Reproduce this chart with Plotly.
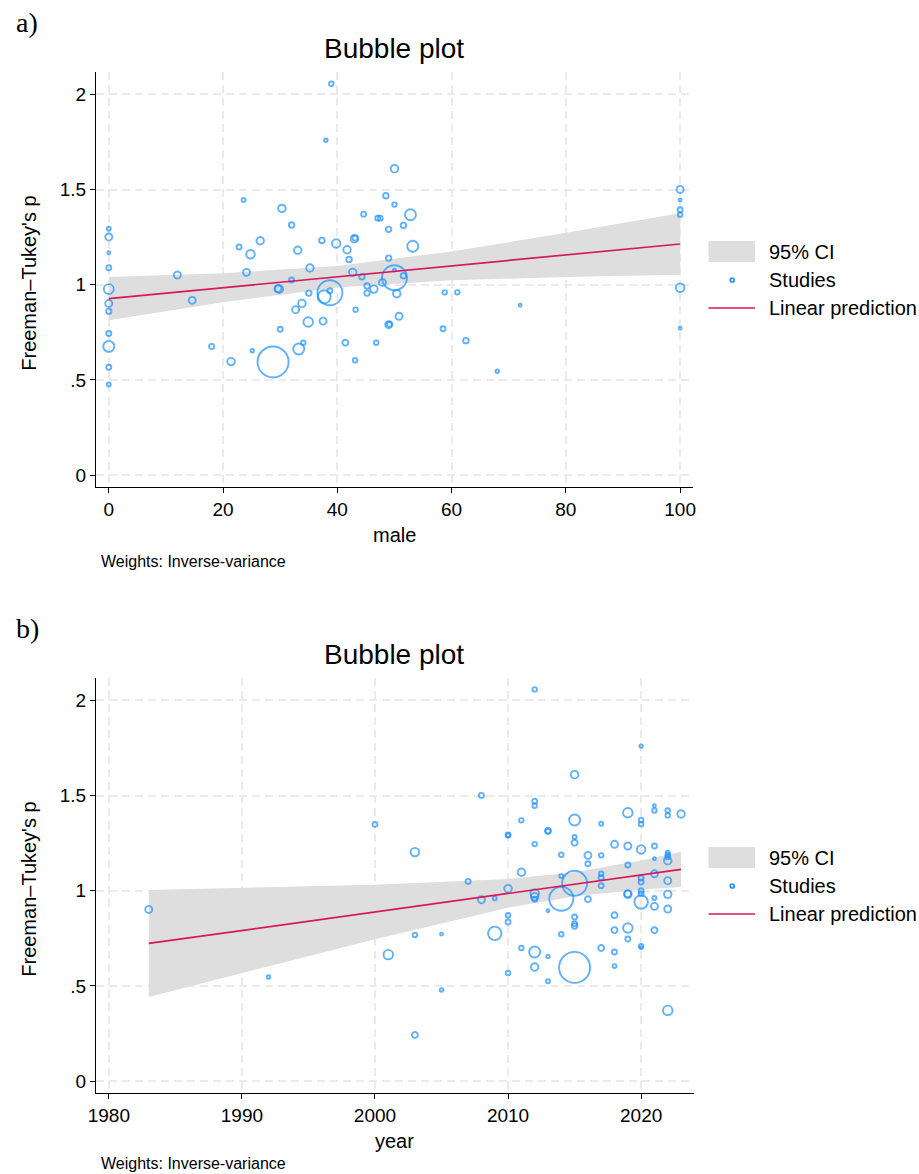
import plotly.graph_objects as go

# ---------------- Panel a: male ----------------
male = [0, 0, 0, 0, 0, 0, 0, 0, 0, 0, 0,
        12, 14.6, 18, 21.4, 25.1, 28.75, 23.6, 30.3, 32, 22.8, 26.5, 24.8, 24.1, 29.8, 29.6,
        32, 30, 32.7, 33.07, 33.25, 33.8,
        38.95, 38, 50, 48.5, 50, 52.8, 44.6, 47.07, 47.5, 48.98, 51.57, 37.3, 39.8, 43, 43.1,
        41.7, 42.06, 53.2, 48.98, 35.2, 42.7, 44.3, 50, 50, 51.57, 45.2, 46.4, 45.2, 47.9, 50.4,
        38.7, 37.7, 38.7, 35, 43.2, 34.9, 37.5, 49, 49.1, 50.8, 34.05, 41.4, 46.8, 43.1,
        58.8, 61, 58.5, 62.5, 68, 72,
        100, 100, 100, 100, 100, 100]
male_ft = [1.294, 1.251, 1.168, 1.089, 0.977, 0.902, 0.860, 0.744, 0.676, 0.566, 0.476,
           1.051, 0.918, 0.676, 0.596, 0.653, 0.594, 1.445, 1.401, 1.314, 1.198, 1.231, 1.160, 1.065, 0.977, 0.980,
           1.025, 0.766, 0.869, 1.181, 0.662, 0.902,
           2.056, 1.759, 1.610, 1.468, 1.421, 1.368, 1.371, 1.350, 1.350, 1.291, 1.312, 1.233, 1.217, 1.242, 1.245,
           1.184, 1.133, 1.202, 1.140, 1.088, 1.065, 1.042, 1.077, 1.037, 1.047, 0.993, 0.977, 0.956, 1.012, 0.953,
           0.958, 0.937, 0.968, 0.956, 0.869, 0.804, 0.809, 0.790, 0.792, 0.834, 0.695, 0.695, 0.695, 0.603,
           0.960, 0.960, 0.769, 0.706, 0.545, 0.892,
           1.501, 1.445, 1.394, 1.368, 0.984, 0.771]
male_size = [4, 7, 3, 5, 10, 7, 5.5, 5, 11, 5, 4,
             7, 7, 5, 7.5, 3.5, 31, 4, 7.5, 5.5, 5, 7.5, 8.5, 7, 8, 7,
             5, 5, 7, 7.5, 11, 7.5,
             4.5, 3.5, 7.5, 5.5, 4.5, 11, 5, 5, 5, 5.5, 5.5, 5.5, 8.5, 7.5, 5,
             7.5, 5.5, 11, 5.5, 7.5, 7.5, 5.5, 3, 25, 5.5, 5.5, 7.5, 5.5, 7, 7.5,
             25, 13, 5, 5.5, 4.5, 9.5, 7, 7, 5, 7, 4.5, 6, 4.5, 4.5,
             4.5, 4.5, 5, 5.5, 3.5, 3,
             7, 3, 5, 4.5, 8.5, 3]

male_grid = [0, 20, 40, 60, 80, 100]
male_pred = [0.927, 0.984, 1.042, 1.099, 1.157, 1.214]
male_lo = [0.813, 0.908, 0.985, 1.023, 1.041, 1.052]
male_hi = [1.041, 1.060, 1.099, 1.175, 1.273, 1.376]

# ---------------- Panel b: year ----------------
year = [1983, 1992, 2000, 2003, 2001, 2003, 2005, 2005, 2003, 2008, 2007, 2008, 2009, 2009,
        2010, 2010, 2010, 2010, 2010, 2010,
        2011, 2011, 2011,
        2012, 2012, 2012, 2012, 2012, 2012, 2012, 2012, 2012,
        2013, 2013, 2013, 2013, 2013,
        2014, 2014, 2014, 2014,
        2015, 2015, 2015, 2015, 2015, 2015, 2015, 2015, 2015,
        2016, 2016, 2016,
        2017, 2017, 2017, 2017, 2017, 2017,
        2018, 2018, 2018, 2018, 2018,
        2019, 2019, 2019, 2019, 2019, 2019, 2019,
        2020, 2020, 2020, 2020, 2020, 2020, 2020, 2020, 2020, 2020, 2020,
        2021, 2021, 2021, 2021, 2021, 2021, 2021, 2021,
        2022, 2022, 2022, 2022, 2022, 2022, 2022, 2022, 2022, 2022,
        2023]
year_ft = [0.902, 0.547, 1.349, 1.203, 0.664, 0.767, 0.772, 0.478, 0.242, 1.501, 1.049, 0.953, 0.960, 0.776,
           1.293, 1.291, 1.011, 0.871, 0.836, 0.568,
           1.370, 1.097, 0.699,
           2.058, 1.471, 1.447, 1.245, 0.986, 0.969, 0.955, 0.678, 0.599,
           1.315, 1.312, 0.895, 0.655, 0.524,
           1.189, 1.077, 0.958, 0.771,
           1.610, 1.372, 1.282, 1.252, 1.039, 0.862, 0.827, 0.815, 0.597,
           1.186, 1.142, 0.955,
           1.352, 1.186, 1.089, 1.068, 1.026, 0.699,
           1.244, 0.871, 0.793, 0.678, 0.604,
           1.410, 1.235, 1.135, 0.981, 0.985, 0.804, 0.746,
           1.760, 1.372, 1.350, 1.217, 1.067, 1.046, 1.000, 0.985, 0.941, 0.709, 0.700,
           1.447, 1.422, 1.235, 1.168, 1.089, 0.962, 0.918, 0.792,
           1.422, 1.396, 1.200, 1.188, 1.177, 1.158, 1.053, 0.981, 0.904, 0.371,
           1.403]
year_size = [7, 3.5, 5, 8.5, 9.5, 4.5, 3, 3.5, 6, 5, 5, 7, 4, 13.5,
             5, 4, 7.5, 4.5, 5, 4.5,
             4.5, 7.5, 4.5,
             4.5, 5, 4.5, 4.5, 8.5, 7.5, 5, 11, 7.5,
             6, 5, 3, 3.5, 4,
             4.5, 4, 24, 4.5,
             7.5, 11, 4, 6, 25, 5, 5, 5.5, 31,
             7, 5, 6,
             4, 4.5, 4.5, 5, 5, 6,
             7, 6, 6, 5, 4,
             9.5, 7, 5, 7.5, 7, 9.5, 5,
             3.5, 4.5, 4.5, 8.5, 5, 5, 5, 5, 13.5, 4.5, 3,
             3, 4.5, 5, 3, 7, 4, 7, 6,
             4.5, 4.5, 4, 4.5, 4.5, 7.5, 7, 7.5, 7, 9.5,
             7.5]

year_grid = [1983, 1990, 2000, 2010, 2015, 2020, 2023]
year_pred = [0.723, 0.791, 0.888, 0.986, 1.034, 1.083, 1.112]
year_lo = [0.442, 0.568, 0.745, 0.910, 0.971, 1.007, 1.019]
year_hi = [1.004, 1.014, 1.031, 1.062, 1.097, 1.159, 1.205]

y_tickvals = [0, 0.5, 1, 1.5, 2]
y_ticktext = ["0", ".5", "1", "1.5", "2"]
male_ticks = [0, 20, 40, 60, 80, 100]
year_ticks = [1980, 1990, 2000, 2010, 2020]

BLUE = "#1E90FF"
RED = "#D6185C"
BAND = "#DEDEDE"
FONT = "Liberation Sans, Arial, sans-serif"
W, H = 919, 1174


def px(x):
    return x / W


def py(y):
    return 1 - y / H


fig = go.Figure()


def add_panel(xs, ys, sizes, gx, gp, glo, ghi, xa, ya):
    fig.add_trace(go.Scatter(x=gx, y=glo, mode="lines", line=dict(width=0, color=BAND),
                             xaxis=xa, yaxis=ya, showlegend=False, hoverinfo="skip"))
    fig.add_trace(go.Scatter(x=gx, y=ghi, mode="lines", line=dict(width=0, color=BAND),
                             fill="tonexty", fillcolor=BAND, xaxis=xa, yaxis=ya,
                             showlegend=False, hoverinfo="skip"))
    fig.add_trace(go.Scatter(x=xs, y=ys, mode="markers",
                             marker=dict(symbol="circle-open", size=sizes, color=BLUE,
                                         line=dict(width=1.9, color=BLUE)),
                             xaxis=xa, yaxis=ya, showlegend=False))
    fig.add_trace(go.Scatter(x=gx, y=gp, mode="lines", line=dict(width=1.7, color=RED),
                             xaxis=xa, yaxis=ya, showlegend=False))


add_panel(male, male_ft, male_size, male_grid, male_pred, male_lo, male_hi, "x", "y")
add_panel(year, year_ft, year_size, year_grid, year_pred, year_lo, year_hi, "x2", "y2")

axis_common = dict(showline=True, linecolor="black", linewidth=1, ticks="outside",
                   ticklen=5, tickwidth=1, tickcolor="black", showgrid=True,
                   gridcolor="#EAEAEA", gridwidth=1.5, griddash="8px,5px", zeroline=False,
                   tickfont=dict(family=FONT, size=19, color="black"))

fig.update_layout(
    width=W, height=H, autosize=False,
    margin=dict(l=0, r=0, t=0, b=0),
    paper_bgcolor="white", plot_bgcolor="white",
    showlegend=False,
    xaxis=dict(domain=[px(89), px(693)], anchor="y", range=[-2.25, 102.2],
               tickvals=male_ticks, **axis_common),
    yaxis=dict(domain=[py(487), py(72)], anchor="x", range=[-0.063, 2.118],
               tickvals=y_tickvals, ticktext=y_ticktext, **axis_common),
    xaxis2=dict(domain=[px(89), px(694)], anchor="y2", range=[1979.03, 2023.95],
                tickvals=year_ticks, **axis_common),
    yaxis2=dict(domain=[py(1093), py(678)], anchor="x2", range=[-0.063, 2.118],
                tickvals=y_tickvals, ticktext=y_ticktext, **axis_common),
)

ann = []
shapes = []


def text(x, y, s, size, xanchor="center", family=FONT, angle=0):
    ann.append(dict(x=px(x), y=py(y), xref="paper", yref="paper", text=s, showarrow=False,
                    xanchor=xanchor, yanchor="middle", textangle=angle,
                    font=dict(family=family, size=size, color="black")))


for off, lab, xt in [(0, "a)", "male"), (606, "b)", "year")]:
    text(6, 22 + off, lab, 28, xanchor="left", family="Liberation Serif, Times New Roman, serif")
    text(391, 48 + off, "Bubble plot", 28)
    text(391, 535 + off, xt, 20)
    text(21, 283 + off, "Freeman–Tukey's p", 20, angle=-90)
    text(92, min(561 + off, 1163), "Weights: Inverse-variance", 16, xanchor="left")
    # legend
    shapes.append(dict(type="rect", xref="paper", yref="paper", x0=px(709), x1=px(756),
                       y0=py(262 + off), y1=py(241 + off), fillcolor=BAND, line=dict(width=0)))
    shapes.append(dict(type="circle", xref="paper", yref="paper", x0=px(731), x1=px(735),
                       y0=py(282 + off), y1=py(278 + off), fillcolor="white",
                       line=dict(width=1.7, color=BLUE)))
    shapes.append(dict(type="line", xref="paper", yref="paper", x0=px(709), x1=px(756),
                       y0=py(308 + off), y1=py(308 + off), line=dict(width=1.7, color=RED)))
    text(768, 252 + off, "95% CI", 20, xanchor="left")
    text(768, 280 + off, "Studies", 20, xanchor="left")
    text(768, 308 + off, "Linear prediction", 20, xanchor="left")

fig.update_layout(annotations=ann, shapes=shapes)

post = ("document.documentElement.style.margin='0';document.documentElement.style.padding='0';"
        "document.body.style.margin='0';document.body.style.padding='0';"
        "document.body.style.overflow='hidden';"
        "var d=document.getElementById('{plot_id}');d.style.position='absolute';"
        "d.style.left='0px';d.style.top='0px';window.scrollTo(0,0);")
fig.write_html("out.html", config={"displayModeBar": False}, post_script=post)
